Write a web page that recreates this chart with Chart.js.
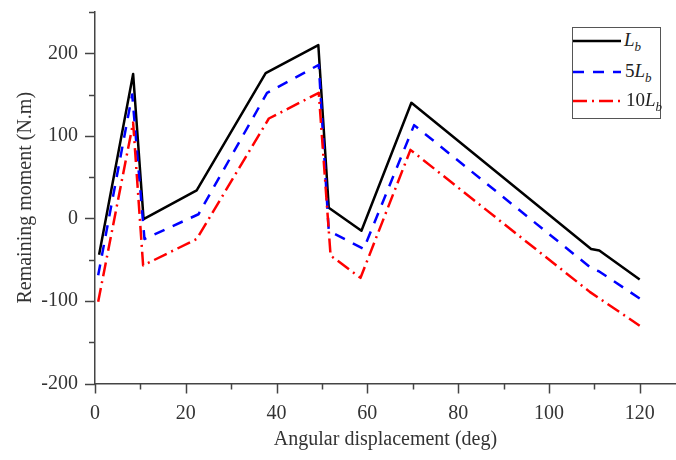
<!DOCTYPE html>
<html>
<head>
<meta charset="utf-8">
<script src="https://cdn.jsdelivr.net/npm/chart.js@4.4.1/dist/chart.umd.min.js"></script>
<style>
  html, body { margin: 0; padding: 0; background: #fff; }
  #wrap { position: relative; width: 676px; height: 460px; }
  #legend { position: absolute; left: 572px; top: 27px; width: 89px; height: 92px;
    border: 1px solid #555; background: #fff; box-sizing: border-box;
    font-family: 'Liberation Serif', 'DejaVu Serif', serif; color: #222; }
  .row { position: absolute; left: 0; height: 24px; width: 88px; }
  .row svg { position: absolute; left: 0; top: 10px; }
  .row span { position: absolute; top: 0; font-size: 19px; line-height: 22px; white-space: nowrap; }
  .row i { font-style: italic; }
  .row sub { font-size: 13px; font-style: italic; vertical-align: -5px; line-height: 0; }
</style>
</head>
<body>
<div id="wrap">
  <canvas id="c" width="676" height="460"></canvas>
  <div id="legend">
    <div class="row" style="top:1px"><svg width="48" height="4"><line x1="0" y1="2" x2="48" y2="2" stroke="#000" stroke-width="2.5"/></svg><span style="left:51px"><i>L</i><sub>b</sub></span></div>
    <div class="row" style="top:32px"><svg width="48" height="4"><line x1="0" y1="2" x2="48" y2="2" stroke="#0000ff" stroke-width="2.5" stroke-dasharray="11 9"/></svg><span style="left:52px">5<i>L</i><sub>b</sub></span></div>
    <div class="row" style="top:61px"><svg width="48" height="4"><line x1="0" y1="2" x2="48" y2="2" stroke="#ff0000" stroke-width="2.5" stroke-dasharray="14 5 2 5"/></svg><span style="left:53px">10<i>L</i><sub>b</sub></span></div>
  </div>
</div>
<script>
// Series data (angular displacement in deg, remaining moment in N.m)
const lbX   = [0.9, 8.4, 10.7, 22.4, 37.6, 49.2, 51.5, 58.7, 69.7, 109.3, 111.1, 120];
const lbY   = [-44, 175, -1, 34, 176, 210, 13, -15, 140, -37, -39, -74];
const lb5X  = [0.7, 8.2, 10.9, 22.8, 37.9, 49.3, 51.5, 59.2, 70.3, 109.5, 111, 120];
const lb5Y  = [-69, 150, -25, 5, 152, 186, -15, -37, 113, -61, -64, -97];
const lb10X = [0.7, 8.4, 10.6, 22.4, 38.3, 49.3, 51.9, 58.5, 69.5, 109, 120];
const lb10Y = [-101, 116, -57, -25, 121, 152, -45, -72, 83, -89, -130];

const xLabelEvery = 20;   // labelled x ticks
const yLabelEvery = 100;  // labelled y ticks
const xStep = 10, yStep = 50;

const FONT = "'Liberation Serif', 'DejaVu Serif', serif";
const TXT = '#333';
const AX = '#444';

const pts = (xs, ys) => xs.map((x, i) => ({ x: x, y: ys[i] }));

const tickPlugin = {
  id: 'outerTicks',
  afterDraw(chart) {
    const ctx = chart.ctx, xs = chart.scales.x, ys = chart.scales.y, ca = chart.chartArea;
    ctx.save();
    ctx.strokeStyle = AX; ctx.lineWidth = 1.5;
    for (let v = ys.min; v <= ys.max + 1e-9; v += yStep) {
      const p = Math.round(ys.getPixelForValue(v)) + 0.5;
      const len = (Math.abs(v) % yLabelEvery === 0) ? 10 : 6;
      ctx.beginPath(); ctx.moveTo(ca.left, p); ctx.lineTo(ca.left - len, p); ctx.stroke();
    }
    for (let v = xs.min; v <= xs.max + 1e-9; v += xStep) {
      const p = Math.round(xs.getPixelForValue(v)) + 0.5;
      const len = (v % xLabelEvery === 0) ? 10 : 6;
      ctx.beginPath(); ctx.moveTo(p, ca.bottom); ctx.lineTo(p, ca.bottom + len); ctx.stroke();
    }
    ctx.restore();
  }
};

new Chart(document.getElementById('c'), {
  type: 'line',
  data: {
    datasets: [
      { label: 'Lb', data: pts(lbX, lbY), borderColor: '#000', borderWidth: 2.5, order: 3 },
      { label: '5Lb', data: pts(lb5X, lb5Y), borderColor: '#0000ff', borderWidth: 2.5, borderDash: [11, 9], order: 2 },
      { label: '10Lb', data: pts(lb10X, lb10Y), borderColor: '#ff0000', borderWidth: 2.5, borderDash: [14, 5, 2, 5], order: 1 }
    ]
  },
  options: {
    responsive: false,
    animation: false,
    devicePixelRatio: 1,
    elements: { point: { radius: 0 }, line: { tension: 0, borderJoinStyle: 'round', fill: false } },
    layout: { padding: { left: 0, right: 0, top: 11, bottom: 0 } },
    plugins: { legend: { display: false }, tooltip: { enabled: false } },
    scales: {
      x: {
        type: 'linear', min: 0, max: 128,
        grid: { display: false, drawTicks: true, tickLength: 18, tickColor: 'rgba(0,0,0,0)' },
        border: { display: true, color: AX, width: 1.5 },
        ticks: {
          stepSize: xStep, includeBounds: false, autoSkip: false, maxRotation: 0,
          padding: 0, color: TXT, font: { family: FONT, size: 20 },
          callback: v => (v % xLabelEvery === 0 ? v : null)
        },
        title: { display: true, text: 'Angular displacement (deg)', color: TXT,
          font: { family: FONT, size: 20 }, padding: { top: 0, bottom: 8 } },
        afterFit: s => { s.height = 76.5; }
      },
      y: {
        min: -200, max: 250,
        grid: { display: false, drawTicks: true, tickLength: 17, tickColor: 'rgba(0,0,0,0)' },
        border: { display: true, color: AX, width: 1.5 },
        ticks: {
          stepSize: yStep, includeBounds: false, autoSkip: false,
          padding: 0, color: TXT, font: { family: FONT, size: 20 },
          callback: v => (v % yLabelEvery === 0 ? v : null)
        },
        title: { display: true, text: 'Remaining moment (N.m)', color: TXT,
          font: { family: FONT, size: 20 }, padding: { top: 14, bottom: 0 } },
        afterFit: s => { s.width = 95; }
      }
    }
  },
  plugins: [tickPlugin]
});
</script>
</body>
</html>
